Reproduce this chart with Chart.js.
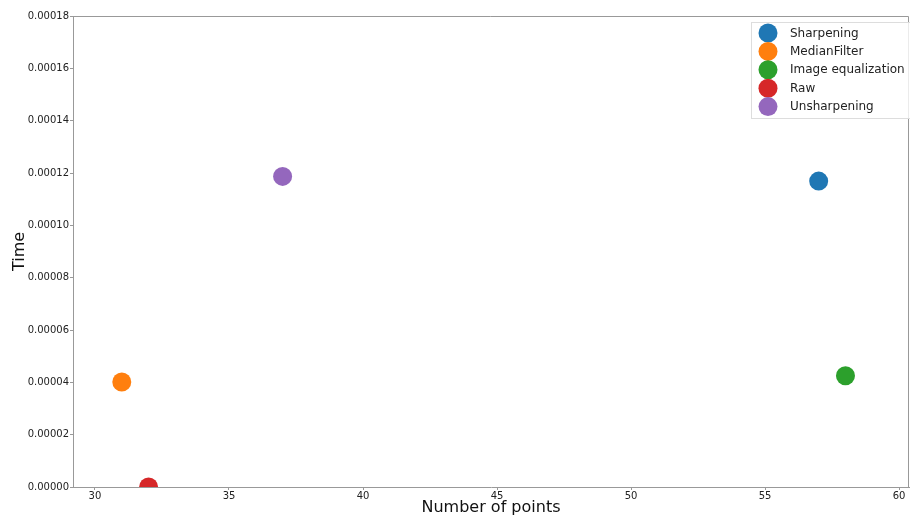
<!DOCTYPE html>
<html>
<head>
<meta charset="utf-8">
<script src="https://cdn.jsdelivr.net/npm/chart.js@4/dist/chart.umd.min.js"></script>
<style>
  html, body { margin: 0; padding: 0; background: #fff; }
  #wrap { width: 910px; height: 517px; position: relative; }
</style>
</head>
<body>
<div id="wrap"><canvas id="scatter"></canvas></div>
<script>
// timing per filter
const methods = ['Sharpening', 'MedianFilter', 'Image equalization', 'Raw', 'Unsharpening'];
const numPoints = [57, 31, 58, 32, 37];
const times = [0.0001169, 0.0000401, 0.0000425, 0.0, 0.0001187];
const colors = ['#1f77b4', '#ff7f0e', '#2ca02c', '#d62728', '#9467bd'];
const xTicks = [30, 35, 40, 45, 50, 55, 60];
const yTicks = [0, 0.00002, 0.00004, 0.00006, 0.00008, 0.0001, 0.00012, 0.00014, 0.00016, 0.00018];

const FONT = 'DejaVu Sans';

// frame on top/right plus the boxed legend in the corner
const framePlugin = {
  id: 'frame',
  afterDraw(chart) {
    const { ctx, chartArea: a } = chart;
    ctx.save();
    ctx.strokeStyle = '#999';
    ctx.lineWidth = 1;
    ctx.beginPath();
    ctx.moveTo(a.left, a.top + 0.5);
    ctx.lineTo(a.right - 0.5, a.top + 0.5);
    ctx.lineTo(a.right - 0.5, a.bottom);
    ctx.stroke();

    // legend
    const bx = 751.5, by = 22.5, bw = 170, bh = 96;
    ctx.fillStyle = 'rgba(255,255,255,0.8)';
    ctx.strokeStyle = '#dddddd';
    ctx.fillRect(bx, by, bw, bh);
    ctx.strokeRect(bx, by, bw, bh);
    ctx.font = '12px ' + FONT;
    ctx.textBaseline = 'middle';
    chart.data.datasets.forEach((ds, i) => {
      const y = 33 + i * 18.4;
      ctx.fillStyle = ds.backgroundColor;
      ctx.beginPath();
      ctx.arc(768, y, 9.5, 0, Math.PI * 2);
      ctx.fill();
      ctx.fillStyle = '#222';
      ctx.fillText(ds.label, 790, y + 0.5);
    });
    ctx.restore();
  }
};

const datasets = methods.map((m, i) => ({
  label: m,
  data: [{ x: numPoints[i], y: times[i] }],
  backgroundColor: colors[i],
  borderColor: colors[i],
  pointRadius: 9.5,
  pointHoverRadius: 9.5,
  borderWidth: 0
}));

new Chart(document.getElementById('scatter'), {
  type: 'scatter',
  data: { datasets },
  options: {
    responsive: true,
    maintainAspectRatio: false,
    animation: false,
    layout: { autoPadding: false, padding: { top: 16, right: 1, left: 0, bottom: 0 } },
    plugins: {
      legend: { display: false },
      tooltip: { enabled: false }
    },
    scales: {
      x: {
        type: 'linear',
        min: 29.18,
        max: 60.37,
        afterBuildTicks: s => { s.ticks = xTicks.map(v => ({ value: v })); },
        afterFit: s => { s.height = 30; s.paddingLeft = 0; s.paddingRight = 0; },
        grid: { drawOnChartArea: false, drawTicks: true, tickLength: 3, color: '#999' },
        border: { color: '#999' },
        ticks: { color: '#222', font: { family: FONT, size: 10 }, padding: 0, maxRotation: 0 },
        title: { display: true, text: 'Number of points', color: '#111', font: { family: FONT, size: 16 }, padding: { top: 0, bottom: 0 } }
      },
      y: {
        type: 'linear',
        min: 0,
        max: 0.00018,
        afterBuildTicks: s => { s.ticks = yTicks.map(v => ({ value: v })); },
        afterFit: s => { s.width = 73; s.paddingTop = 0; s.paddingBottom = 0; },
        grid: { drawOnChartArea: false, drawTicks: true, tickLength: 3, color: '#999' },
        border: { color: '#999' },
        ticks: { color: '#222', font: { family: FONT, size: 10 }, padding: 1, callback: v => v.toFixed(5) },
        title: { display: true, text: 'Time', color: '#111', font: { family: FONT, size: 16 }, padding: { top: 10, bottom: 0 } }
      }
    }
  },
  plugins: [framePlugin]
});
</script>
</body>
</html>
